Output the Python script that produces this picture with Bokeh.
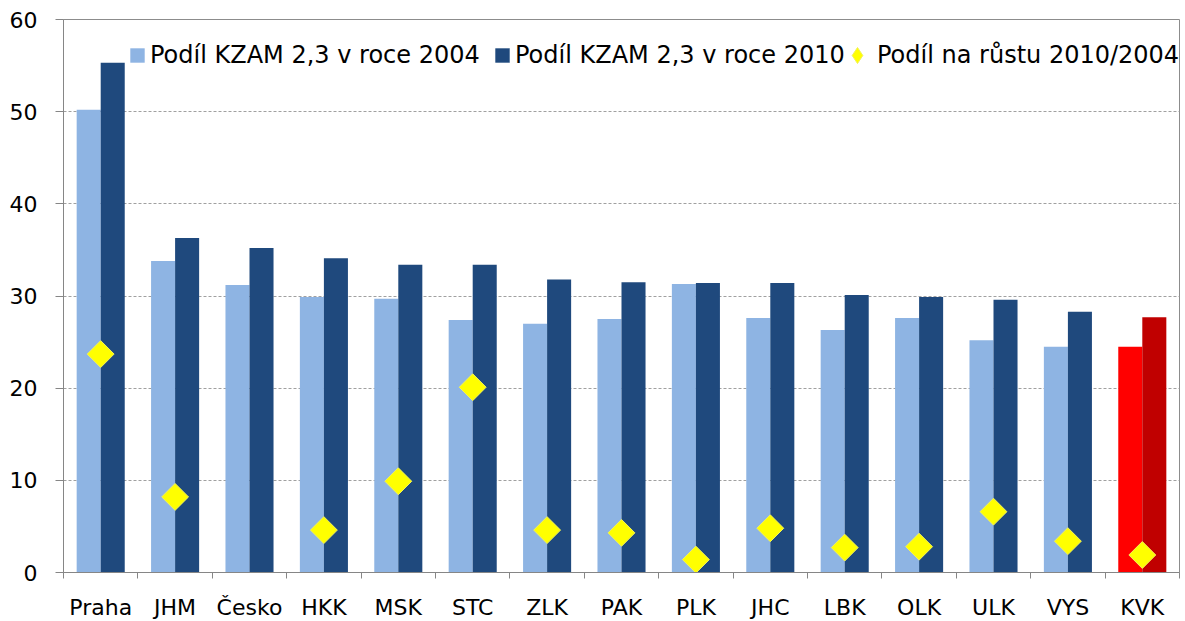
import numpy as np
from bokeh.plotting import figure
from bokeh.models import ColumnDataSource, Range1d, FixedTicker, Legend, LegendItem
from bokeh.embed import file_html
from bokeh.resources import INLINE

regions = ["Praha", "JHM", "Česko", "HKK", "MSK", "STC", "ZLK", "PAK",
           "PLK", "JHC", "LBK", "OLK", "ULK", "VYS", "KVK"]
share_2004 = [50.2, 33.8, 31.2, 29.9, 29.7, 27.4, 27.0, 27.5,
              31.3, 27.6, 26.3, 27.6, 25.2, 24.5, 24.5]
share_2010 = [55.3, 36.3, 35.2, 34.1, 33.4, 33.4, 31.8, 31.5,
              31.4, 31.4, 30.1, 29.9, 29.6, 28.3, 27.7]
growth_share = [23.7, 8.2, float("nan"), 4.6, 9.9, 20.1, 4.6, 4.3,
                1.4, 4.8, 2.7, 2.8, 6.6, 3.4, 1.9]
y_ticks = [0, 10, 20, 30, 40, 50, 60]
series_names = ["Podíl KZAM 2,3 v roce 2004", "Podíl KZAM 2,3 v roce 2010",
                "Podíl na růstu 2010/2004"]
highlight = "KVK"

LIGHT, DARK = "#8EB4E3", "#1F497D"
RED, DARKRED = "#FF0000", "#C00000"
YELLOW = "#FFFF00"
FONT = "DejaVu Sans"

n = len(regions)
centers = np.arange(n) + 0.5
bw = 0.323
src = ColumnDataSource(dict(
    x04=centers - bw / 2, x10=centers + bw / 2, xc=centers,
    v04=share_2004, v10=share_2010, g=growth_share,
    c04=[RED if r == highlight else LIGHT for r in regions],
    c10=[DARKRED if r == highlight else DARK for r in regions],
))

FW, FH = 1116, 553
p = figure(frame_width=FW, frame_height=FH, output_backend="svg", toolbar_location=None,
           x_range=Range1d(0, n), y_range=Range1d(0, 60),
           min_border_left=63, min_border_right=5, min_border_top=19, min_border_bottom=0)
p.background_fill_color = "white"
p.border_fill_color = "white"
p.outline_line_color = "#8C8C8C"

r1 = p.vbar(x="x04", top="v04", width=bw, source=src, fill_color="c04", line_color=None)
r2 = p.vbar(x="x10", top="v10", width=bw, source=src, fill_color="c10", line_color=None)
r3 = p.scatter(x="xc", y="g", source=src, marker="square", size=19, angle=np.pi / 4,
               fill_color=YELLOW, line_color="#F2F25A", line_width=1)
# legend-only twin of the growth markers (legend glyphs ignore marker angle)
r3_leg = p.scatter(x="xc", y="g", source=src, marker="diamond", size=19,
                   fill_color=YELLOW, line_color="#F2F25A", line_width=1, visible=False)

# axes
p.yaxis.ticker = FixedTicker(ticks=y_ticks)
p.yaxis.axis_line_color = "#868686"
p.yaxis.major_tick_line_color = "#868686"
p.yaxis.major_tick_out = 8
p.yaxis.major_tick_in = 0
p.yaxis.minor_tick_line_color = None
p.yaxis.major_label_standoff = 18
p.yaxis.major_label_text_font = FONT
p.yaxis.major_label_text_font_size = "22px"
p.yaxis.major_label_text_color = "#000000"

p.xaxis.ticker = FixedTicker(ticks=list(centers), minor_ticks=list(np.arange(n + 1)))
p.xaxis.major_label_overrides = {float(c): r for c, r in zip(centers, regions)}
p.xaxis.axis_line_color = "#868686"
p.xaxis.major_tick_line_color = None
p.xaxis.major_tick_out = 0
p.xaxis.major_tick_in = 0
p.xaxis.minor_tick_line_color = "#868686"
p.xaxis.minor_tick_out = 6
p.xaxis.minor_tick_in = 0
p.xaxis.major_label_standoff = 16
p.xaxis.major_label_text_font = FONT
p.xaxis.major_label_text_font_size = "22px"
p.xaxis.major_label_text_color = "#000000"

p.xgrid.grid_line_color = None
p.ygrid.ticker = FixedTicker(ticks=[10, 20, 30, 40, 50])
p.ygrid.grid_line_color = "#A0A0A0"
p.ygrid.grid_line_dash = "3 2"
p.ygrid.grid_line_width = 1

def mk_legend(item, x, y_from_top, gw, gh, standoff):
    lg = Legend(items=[item], location=(x, FH - y_from_top), orientation="horizontal",
                background_fill_alpha=0, border_line_color=None,
                padding=0, margin=0, spacing=0,
                glyph_width=gw, glyph_height=gh, label_standoff=standoff,
                label_text_font=FONT, label_text_font_size="24px",
                label_text_color="#000000")
    p.add_layout(lg, "center")

mk_legend(LegendItem(label=series_names[0], renderers=[r1], index=0), 65, 50, 18, 18, 4)
mk_legend(LegendItem(label=series_names[1], renderers=[r2], index=0), 430, 50, 18, 18, 4)
mk_legend(LegendItem(label=series_names[2], renderers=[r3_leg], index=0), 774, 56, 40, 40, 0)

open("out.html", "w").write(file_html(p, INLINE))
